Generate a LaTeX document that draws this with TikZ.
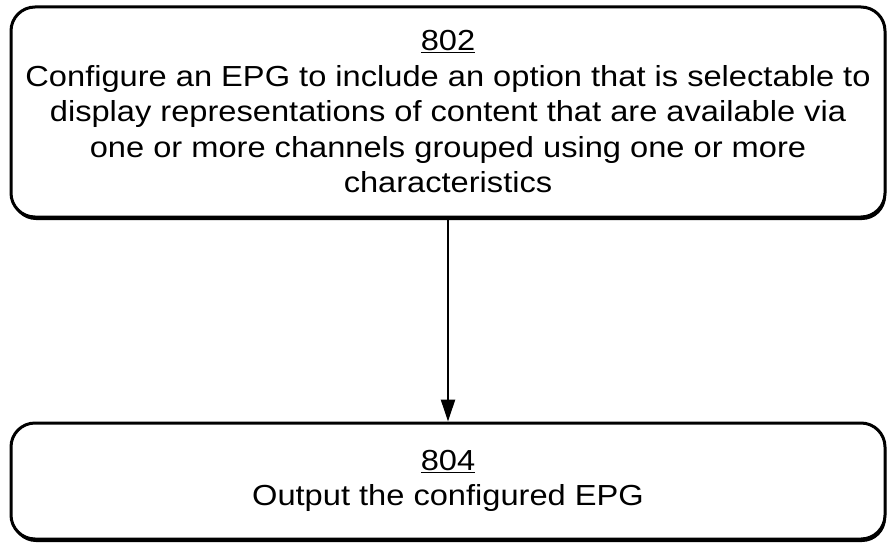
\documentclass[tikz,border=0pt]{standalone}
\usepackage{fontspec}
\setmainfont{Liberation Sans}[FakeStretch=1.125]
\usetikzlibrary{arrows.meta,shadows}
\begin{document}
\begin{tikzpicture}[x=1pt,y=-1pt,
  stepbox/.style={draw=black, line width=3pt, rounded corners=24pt, fill=white,
    align=center, inner sep=0pt, minimum width=874pt,
    font={\fontsize{29}{35.5}\selectfont},
    drop shadow={shadow xshift=1pt, shadow yshift=-3pt, fill=black, opacity=1}},
  link/.style={draw=black, line width=2.5pt, -{Triangle[width=14pt,length=22pt]}}]
\useasboundingbox (0,0) rectangle (888,543);
\node[stepbox, minimum height=210pt] (s802) at (448,112)
  {\underline{802}\\Configure an EPG to include an option that is selectable to\\
   display representations of content that are available via\\
   one or more channels grouped using one or more\\
   characteristics};
\node[stepbox, minimum height=116pt] (s804) at (448,481)
  {\underline{804}\\Output the configured EPG};
\draw[link] (s802.south) -- (s804.north);
\end{tikzpicture}
\end{document}
